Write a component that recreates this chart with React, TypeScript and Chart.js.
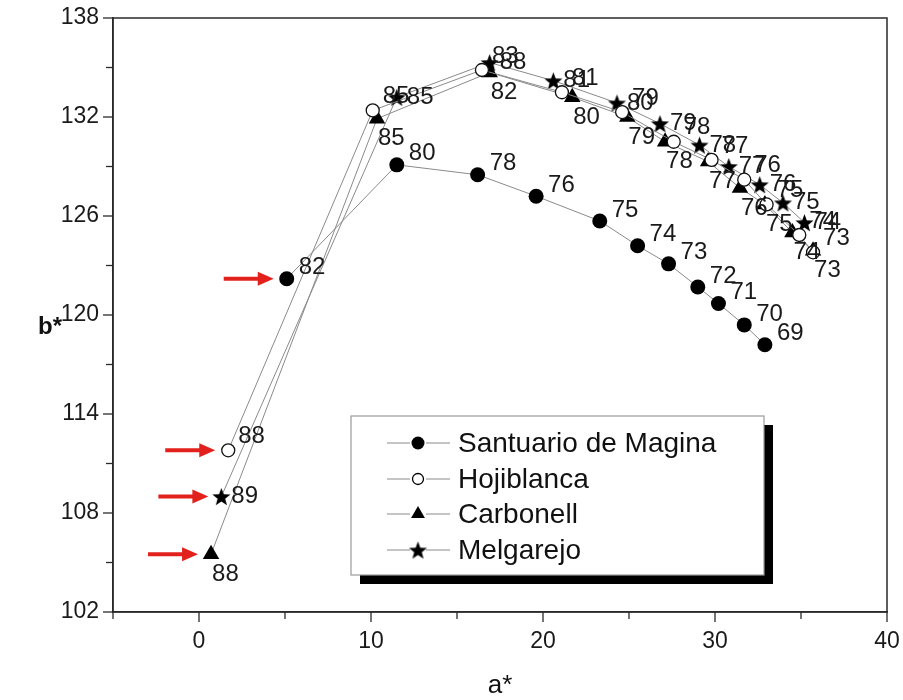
import React, { useEffect, useRef } from "react";
import { Chart, registerables } from "chart.js";

Chart.register(...registerables);

// ---- data ----
const seriesNames = ["Santuario de Magina", "Hojiblanca", "Carbonell", "Melgarejo"];

const santuarioA = [5.1, 11.5, 16.2, 19.6, 23.3, 25.5, 27.3, 29.0, 30.2, 31.7, 32.9];
const santuarioB = [122.2, 129.1, 128.5, 127.2, 125.7, 124.2, 123.1, 121.7, 120.7, 119.4, 118.2];
const santuarioLabels = [82, 80, 78, 76, 75, 74, 73, 72, 71, 70, 69];

const hojiblancaA = [1.7, 10.1, 16.45, 21.1, 24.6, 27.6, 29.8, 31.7, 33.0, 34.9, 35.7];
const hojiblancaB = [111.8, 132.4, 134.85, 133.5, 132.3, 130.5, 129.4, 128.2, 126.7, 124.85, 123.8];
const hojiblancaLabels = [88, 85, 83, 81, 79, 78, 77, 76, 75, 74, 73];

const carbonellA = [0.7, 10.35, 16.9, 21.7, 24.9, 27.1, 29.6, 31.45, 32.9, 34.5, 35.7];
const carbonellB = [105.5, 131.9, 134.7, 133.2, 132.0, 130.5, 129.3, 127.7, 126.7, 125.0, 123.9];
const carbonellLabels = [88, 85, 82, 80, 79, 78, 77, 76, 75, 74, 73];

const melgarejoA = [1.3, 11.5, 16.9, 20.6, 24.3, 26.8, 29.1, 30.8, 32.6, 33.95, 35.2];
const melgarejoB = [109.0, 133.2, 135.3, 134.2, 132.85, 131.6, 130.3, 129.0, 127.9, 126.8, 125.6];
const melgarejoLabels = [89, 85, 88, 81, 80, 79, 78, 77, 76, 75, 74];

const xTickLabels = [0, 10, 20, 30, 40];
const yTickLabels = [102, 108, 114, 120, 126, 132, 138];
const X_MIN = -5, X_MAX = 40, X_STEP = 5;
const Y_MIN = 102, Y_MAX = 138, Y_STEP = 3;
const xTitle = "a*";
const yTitle = "b*";

// ---- style ----
const FONT = "'Liberation Sans', Arial, sans-serif";
const LINE_COLOR = "#8a8a8a";
const AXIS_COLOR = "#2a2a2a";
const ARROW_COLOR = "#e3211c";

function makeStar(r: number): HTMLCanvasElement {
  const c = document.createElement("canvas");
  const s = Math.ceil(r * 2 + 2);
  c.width = s;
  c.height = s;
  const g = c.getContext("2d")!;
  g.fillStyle = "#000";
  g.beginPath();
  for (let i = 0; i < 10; i++) {
    const rad = i % 2 === 0 ? r : r * 0.42;
    const a = -Math.PI / 2 + (i * Math.PI) / 5;
    const px = s / 2 + rad * Math.cos(a);
    const py = s / 2 + rad * Math.sin(a) + r * 0.1;
    if (i === 0) g.moveTo(px, py);
    else g.lineTo(px, py);
  }
  g.closePath();
  g.fill();
  return c;
}

const zeroPad = (s: any) => {
  s.paddingLeft = 0;
  s.paddingRight = 0;
  s.paddingTop = 0;
  s.paddingBottom = 0;
};

export default function App() {
  const ref = useRef<HTMLCanvasElement | null>(null);

  useEffect(() => {
    const canvas = ref.current;
    if (!canvas) return;
    const star = makeStar(9.5);

    const labelSets = [santuarioLabels, hojiblancaLabels, carbonellLabels, melgarejoLabels];
    const labelOffsets = [
      { dx: 12, dy: -11 },
      { dx: 10, dy: -14 },
      { dx: 1, dy: 20 },
      { dx: 10, dy: 0 },
    ];

    const mk = (a: number[], b: number[]) => a.map((x, i) => ({ x, y: b[i] }));

    const drawMarker = (ctx: CanvasRenderingContext2D, kind: number, x: number, y: number) => {
      ctx.save();
      ctx.fillStyle = "#000";
      ctx.strokeStyle = "#000";
      if (kind === 0) {
        ctx.beginPath();
        ctx.arc(x, y, 6.5, 0, Math.PI * 2);
        ctx.fill();
      } else if (kind === 1) {
        ctx.beginPath();
        ctx.arc(x, y, 5.5, 0, Math.PI * 2);
        ctx.fillStyle = "#fff";
        ctx.fill();
        ctx.lineWidth = 1.3;
        ctx.stroke();
      } else if (kind === 2) {
        const r = 8;
        ctx.beginPath();
        ctx.moveTo(x, y - r);
        ctx.lineTo(x + r * 0.866, y + r * 0.5);
        ctx.lineTo(x - r * 0.866, y + r * 0.5);
        ctx.closePath();
        ctx.fill();
      } else {
        ctx.drawImage(star, x - star.width / 2, y - star.height / 2);
      }
      ctx.restore();
    };

    const decor = {
      id: "decor",
      afterDraw(chart: any) {
        const ctx: CanvasRenderingContext2D = chart.ctx;
        const { left, right, top, bottom } = chart.chartArea;
        const xs = chart.scales.x;
        const ys = chart.scales.y;
        ctx.save();

        // frame
        ctx.strokeStyle = AXIS_COLOR;
        ctx.lineWidth = 1.5;
        ctx.strokeRect(left, top, right - left, bottom - top);

        // tick marks
        ctx.lineWidth = 1.3;
        xs.ticks.forEach((t: any) => {
          const px = xs.getPixelForValue(t.value);
          const len = xTickLabels.includes(t.value) ? 10 : 7;
          ctx.beginPath();
          ctx.moveTo(px, bottom);
          ctx.lineTo(px, bottom + len);
          ctx.stroke();
        });
        ys.ticks.forEach((t: any) => {
          const py = ys.getPixelForValue(t.value);
          const len = yTickLabels.includes(t.value) ? 10 : 7;
          ctx.beginPath();
          ctx.moveTo(left, py);
          ctx.lineTo(left - len, py);
          ctx.stroke();
        });

        // axis titles
        ctx.fillStyle = "#111";
        ctx.textAlign = "center";
        ctx.textBaseline = "middle";
        ctx.font = `bold 24px ${FONT}`;
        ctx.fillText(yTitle, 50, (top + bottom) / 2 + 12);
        ctx.font = `26px ${FONT}`;
        ctx.fillText(xTitle, (left + right) / 2, 686);

        // point labels
        ctx.font = `24px ${FONT}`;
        ctx.textAlign = "left";
        ctx.fillStyle = "#1a1a1a";
        chart.data.datasets.forEach((ds: any, di: number) => {
          const meta = chart.getDatasetMeta(di);
          const off = labelOffsets[di];
          meta.data.forEach((el: any, i: number) => {
            ctx.fillText(String(labelSets[di][i]), el.x + off.dx, el.y + off.dy);
          });
        });

        // red arrows toward first points
        ctx.fillStyle = ARROW_COLOR;
        ctx.strokeStyle = ARROW_COLOR;
        chart.data.datasets.forEach((ds: any, di: number) => {
          const el = chart.getDatasetMeta(di).data[0];
          const tip = el.x - 13;
          const tail = tip - 50;
          const y = el.y;
          ctx.lineWidth = 4;
          ctx.beginPath();
          ctx.moveTo(tail, y);
          ctx.lineTo(tip - 10, y);
          ctx.stroke();
          ctx.beginPath();
          ctx.moveTo(tip, y);
          ctx.lineTo(tip - 16, y - 7);
          ctx.lineTo(tip - 16, y + 7);
          ctx.closePath();
          ctx.fill();
        });

        // legend with shadow
        const lx = 351, ly = 416, lw = 413, lh = 159;
        ctx.fillStyle = "#000";
        ctx.fillRect(lx + 9, ly + 9, lw, lh);
        ctx.fillStyle = "#fff";
        ctx.fillRect(lx, ly, lw, lh);
        ctx.strokeStyle = "#9a9a9a";
        ctx.lineWidth = 1.2;
        ctx.strokeRect(lx, ly, lw, lh);
        const rows = [443, 479, 514, 550];
        ctx.font = `28px ${FONT}`;
        ctx.textBaseline = "middle";
        seriesNames.forEach((name, i) => {
          const y = rows[i];
          ctx.strokeStyle = LINE_COLOR;
          ctx.lineWidth = 1;
          ctx.beginPath();
          ctx.moveTo(387, y);
          ctx.lineTo(410, y);
          ctx.moveTo(426, y);
          ctx.lineTo(450, y);
          ctx.stroke();
          drawMarker(ctx, i, 418, y);
          ctx.fillStyle = "#111";
          ctx.textAlign = "left";
          ctx.fillText(name, 458, y + 1);
        });

        ctx.restore();
      },
    };

    const chart = new Chart(canvas, {
      type: "scatter",
      data: {
        datasets: [
          {
            label: seriesNames[0],
            data: mk(santuarioA, santuarioB),
            showLine: true,
            borderColor: LINE_COLOR,
            borderWidth: 1,
            pointStyle: "circle",
            pointRadius: 7.5,
            pointBackgroundColor: "#000",
            pointBorderColor: "#000",
            pointBorderWidth: 0,
          },
          {
            label: seriesNames[1],
            data: mk(hojiblancaA, hojiblancaB),
            showLine: true,
            borderColor: LINE_COLOR,
            borderWidth: 1,
            pointStyle: "circle",
            pointRadius: 6.5,
            pointBackgroundColor: "#fff",
            pointBorderColor: "#111",
            pointBorderWidth: 1.3,
          },
          {
            label: seriesNames[2],
            data: mk(carbonellA, carbonellB),
            showLine: true,
            borderColor: LINE_COLOR,
            borderWidth: 1,
            pointStyle: "triangle",
            pointRadius: 9.5,
            pointBackgroundColor: "#000",
            pointBorderColor: "#000",
            pointBorderWidth: 0,
          },
          {
            label: seriesNames[3],
            data: mk(melgarejoA, melgarejoB),
            showLine: true,
            borderColor: LINE_COLOR,
            borderWidth: 1,
            pointStyle: star as any,
            pointRadius: 9,
            pointBackgroundColor: "#000",
            pointBorderColor: "#000",
          },
        ],
      },
      options: {
        animation: false,
        responsive: false,
        maintainAspectRatio: false,
        devicePixelRatio: 1,
        layout: { autoPadding: false, padding: { left: 0, top: 18, right: 16, bottom: 0 } },
        plugins: {
          legend: { display: false },
          tooltip: { enabled: false },
        },
        scales: {
          x: {
            type: "linear",
            min: X_MIN,
            max: X_MAX,
            grid: { display: false, drawTicks: false },
            border: { display: true, color: AXIS_COLOR, width: 1.5 },
            ticks: {
              stepSize: X_STEP,
              autoSkip: false,
              maxRotation: 0,
              padding: 16,
              color: "#1a1a1a",
              font: { family: FONT, size: 23 },
              callback: (v: any) => (xTickLabels.includes(Number(v)) ? String(v) : ""),
            },
            afterFit: (s: any) => {
              s.height = 88;
              zeroPad(s);
            },
          },
          y: {
            type: "linear",
            min: Y_MIN,
            max: Y_MAX,
            grid: { display: false, drawTicks: false },
            border: { display: true, color: AXIS_COLOR, width: 1.5 },
            ticks: {
              stepSize: Y_STEP,
              autoSkip: false,
              padding: 14,
              color: "#1a1a1a",
              font: { family: FONT, size: 23 },
              callback: (v: any) => (yTickLabels.includes(Number(v)) ? String(v) : ""),
            },
            afterFit: (s: any) => {
              s.width = 113;
              zeroPad(s);
            },
          },
        },
      },
      plugins: [decor],
    });

    return () => chart.destroy();
  }, []);

  return (
    <div style={{ position: "absolute", left: 0, top: 0, width: 903, height: 700, background: "#fff" }}>
      <canvas ref={ref} width={903} height={700} style={{ display: "block" }} />
    </div>
  );
}
